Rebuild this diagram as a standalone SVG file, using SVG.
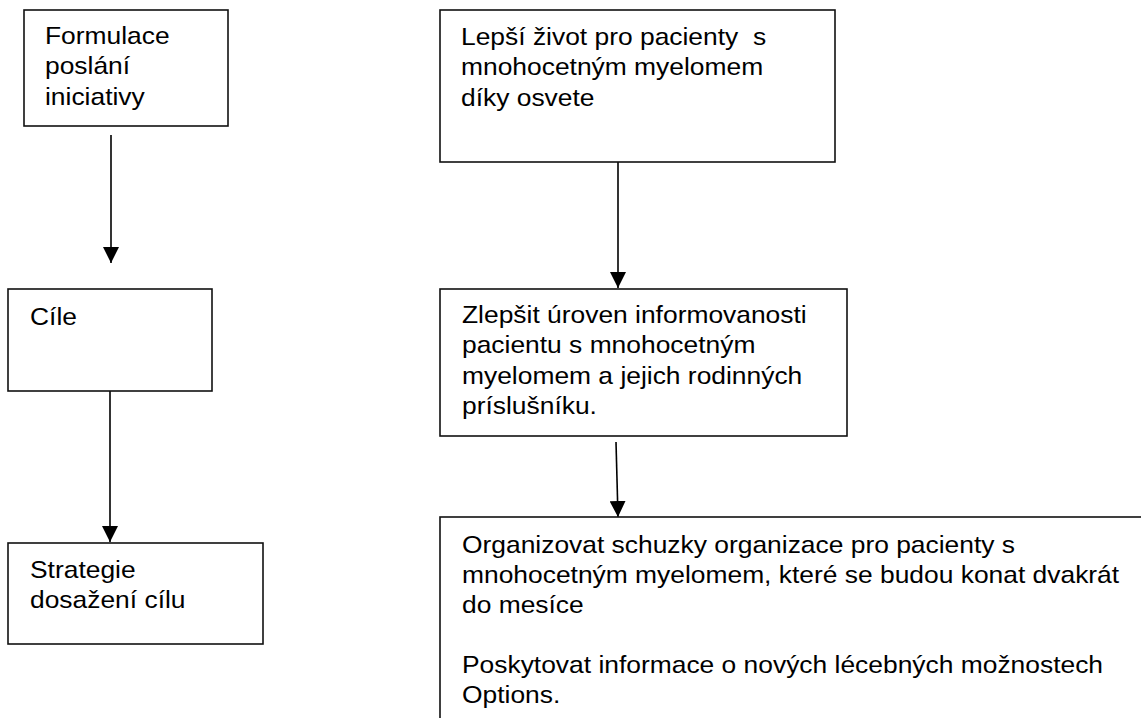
<svg xmlns="http://www.w3.org/2000/svg" width="1141" height="718" viewBox="0 0 1141 718">
<style>
.box{fill:#fff;stroke:#111;stroke-width:1.6}
.lbl{font-family:"Liberation Sans",Arial,sans-serif;font-size:24px;fill:#000;white-space:pre}
.con{stroke:#000;stroke-width:1.6;fill:none;marker-end:url(#ah)}
</style>
<defs>
<marker id="ah" markerUnits="userSpaceOnUse" markerWidth="16" markerHeight="16" viewBox="0 0 16 16" refX="16" refY="8" orient="auto">
<path d="M0,0 L16,8 L0,16 z" fill="#000"/>
</marker>
</defs>
<rect width="1141" height="718" fill="#fff"/>
<g id="connectors">
<line class="con" x1="111" y1="135" x2="111" y2="263"/>
<line class="con" x1="110" y1="391" x2="110" y2="542"/>
<line class="con" x1="618" y1="162" x2="618" y2="288"/>
<line class="con" x1="616" y1="442" x2="618" y2="517"/>
</g>
<g id="node-formulace">
<rect class="box" x="24" y="10" width="204" height="116"/>
<text class="lbl" transform="translate(45,44) scale(1.1,1)"><tspan x="0" y="0">Formulace</tspan><tspan x="0" y="30.5">poslání</tspan><tspan x="0" y="61">iniciativy</tspan></text>
</g>
<g id="node-cile">
<rect class="box" x="8" y="289" width="204" height="102"/>
<text class="lbl" transform="translate(30,325) scale(1.1,1)"><tspan x="0" y="0">Cíle</tspan></text>
</g>
<g id="node-strategie">
<rect class="box" x="8" y="543" width="255" height="101"/>
<text class="lbl" transform="translate(30,578) scale(1.1,1)"><tspan x="0" y="0">Strategie</tspan><tspan x="0" y="30.5">dosažení cílu</tspan></text>
</g>
<g id="node-poslani">
<rect class="box" x="440" y="10" width="395" height="152"/>
<text class="lbl" transform="translate(461,45) scale(1.1,1)"><tspan x="0" y="0">Lepší život pro pacienty  s</tspan><tspan x="0" y="30.5">mnohocetným myelomem</tspan><tspan x="0" y="61">díky osvete</tspan></text>
</g>
<g id="node-cil">
<rect class="box" x="440" y="289" width="407" height="147"/>
<text class="lbl" transform="translate(462,323) scale(1.1,1)"><tspan x="0" y="0">Zlepšit úroven informovanosti</tspan><tspan x="0" y="30.5">pacientu s mnohocetným</tspan><tspan x="0" y="61">myelomem a jejich rodinných</tspan><tspan x="0" y="91.5">príslušníku.</tspan></text>
</g>
<g id="node-strategie-detail">
<rect class="box" x="440" y="517" width="800" height="300"/>
<text class="lbl" transform="translate(462,553) scale(1.1,1)"><tspan x="0" y="0">Organizovat schuzky organizace pro pacienty s</tspan><tspan x="0" y="30">mnohocetným myelomem, které se budou konat dvakrát</tspan><tspan x="0" y="60">do mesíce</tspan><tspan x="0" y="120">Poskytovat informace o nových lécebných možnostech</tspan><tspan x="0" y="150">Options.</tspan></text>
</g>
</svg>
